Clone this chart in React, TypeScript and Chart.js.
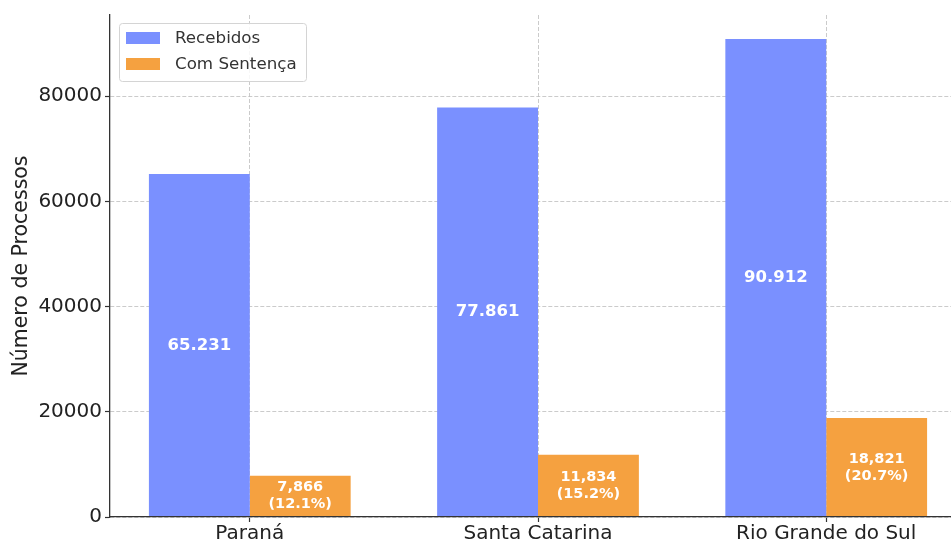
import { useEffect, useRef } from 'react';
import { Chart, registerables } from 'chart.js';

Chart.register(...registerables);

const categories = ['Paraná', 'Santa Catarina', 'Rio Grande do Sul'];
const recebidos = [65231, 77861, 90912];
const comSentenca = [7866, 11834, 18821];
const seriesLabels = ['Recebidos', 'Com Sentença'];
const yTicks = [0, 20000, 40000, 60000, 80000];

const BLUE = 'rgb(122,144,255)';
const ORANGE = 'rgb(245,161,64)';
const FONT = '"DejaVu Sans", "Liberation Sans", sans-serif';

const fmt = (v: number, sep: string) => String(v).replace(/\B(?=(\d{3})+(?!\d))/g, sep);

const labelPlugin = {
  id: 'barLabels',
  afterDatasetsDraw(chart: any) {
    const { ctx } = chart;
    ctx.save();
    ctx.fillStyle = '#ffffff';
    ctx.textAlign = 'center';
    ctx.textBaseline = 'middle';
    chart.data.datasets.forEach((ds: any, di: number) => {
      const meta = chart.getDatasetMeta(di);
      meta.data.forEach((el: any, i: number) => {
        const cy = (el.y + el.base) / 2;
        if (di === 0) {
          ctx.font = `bold 16.5px ${FONT}`;
          ctx.fillText(fmt(recebidos[i], '.'), el.x, cy);
        } else {
          const pct = ((comSentenca[i] / recebidos[i]) * 100).toFixed(1);
          ctx.font = `bold 14.5px ${FONT}`;
          ctx.fillText(fmt(comSentenca[i], ','), el.x, cy - 8.5);
          ctx.fillText(`(${pct}%)`, el.x, cy + 8.5);
        }
      });
    });
    ctx.restore();
  },
};

const legendPlugin = {
  id: 'boxLegend',
  afterDraw(chart: any) {
    const { ctx, chartArea } = chart;
    const x0 = chartArea.left + 9;
    const y0 = chartArea.top + 8;
    const w = 187;
    const h = 58;
    ctx.save();
    ctx.beginPath();
    ctx.roundRect(x0 + 0.5, y0 + 0.5, w, h, 3);
    ctx.fillStyle = 'rgba(255,255,255,0.85)';
    ctx.fill();
    ctx.strokeStyle = '#d4d4d4';
    ctx.lineWidth = 1;
    ctx.stroke();
    chart.data.datasets.forEach((ds: any, i: number) => {
      const cy = y0 + 15 + i * 26;
      ctx.fillStyle = ds.backgroundColor;
      ctx.fillRect(x0 + 7, cy - 6, 34, 12);
      ctx.fillStyle = '#333333';
      ctx.font = `16.7px ${FONT}`;
      ctx.textAlign = 'left';
      ctx.textBaseline = 'middle';
      ctx.fillText(ds.label, x0 + 56, cy + 1);
    });
    ctx.restore();
  },
};

const gridOpts = {
  color: 'rgba(190,190,190,0.8)',
  lineWidth: 1,
  tickLength: 5,
  tickColor: '#333333',
  tickBorderDash: [],
  tickWidth: 1.2,
  offset: false,
};

export default function App() {
  const ref = useRef<HTMLCanvasElement | null>(null);

  useEffect(() => {
    document.body.style.margin = '0';
    const canvas = ref.current;
    if (!canvas) return;
    const chart = new Chart(canvas, {
      type: 'bar',
      data: {
        datasets: [
          {
            label: seriesLabels[0],
            data: recebidos.map((v, i) => ({ x: i, y: v })),
            backgroundColor: BLUE,
            borderWidth: 0,
          },
          {
            label: seriesLabels[1],
            data: comSentenca.map((v, i) => ({ x: i, y: v })),
            backgroundColor: ORANGE,
            borderWidth: 0,
          },
        ],
      },
      options: {
        responsive: false,
        animation: false,
        devicePixelRatio: 1,
        layout: { padding: { left: 0, top: 15, right: 14, bottom: 0 } },
        datasets: { bar: { categoryPercentage: 0.7, barPercentage: 1.0 } },
        plugins: {
          legend: { display: false },
          tooltip: { enabled: false },
          title: { display: false },
        },
        scales: {
          x: {
            type: 'linear',
            offset: false,
            min: -0.485,
            max: 2.485,
            afterFit: (s: any) => { s.height = 43; },
            afterBuildTicks: (s: any) => { s.ticks = categories.map((_, i) => ({ value: i })); },
            ticks: {
              padding: 0,
              color: '#222222',
              font: { family: FONT, size: 20 },
              callback: (v: any) => categories[v as number] ?? '',
              maxRotation: 0,
              autoSkip: false,
            },
            grid: gridOpts,
            border: { display: true, color: '#333333', width: 1.3, z: 1, dash: [4, 2] },
          },
          y: {
            min: 0,
            max: Math.max(...recebidos) * 1.05,
            afterFit: (s: any) => { s.width = 110; },
            afterBuildTicks: (s: any) => { s.ticks = yTicks.map((v) => ({ value: v })); },
            ticks: {
              padding: 3,
              color: '#222222',
              font: { family: FONT, size: 20 },
              callback: (v: any) => String(v),
            },
            grid: gridOpts,
            border: { display: true, color: '#333333', width: 1.3, z: 1, dash: [4, 2] },
            title: {
              display: true,
              text: 'Número de Processos',
              color: '#222222',
              font: { family: FONT, size: 20.5 },
              padding: { top: 9, bottom: 0 },
            },
          },
        },
      } as any,
      plugins: [labelPlugin, legendPlugin],
    });
    return () => chart.destroy();
  }, []);

  return (
    <div
      style={{
        position: 'absolute',
        left: 0,
        top: 0,
        width: 951,
        height: 543,
        overflow: 'hidden',
        background: '#ffffff',
      }}
    >
      <canvas ref={ref} width={980} height={560} style={{ display: 'block' }} />
    </div>
  );
}
